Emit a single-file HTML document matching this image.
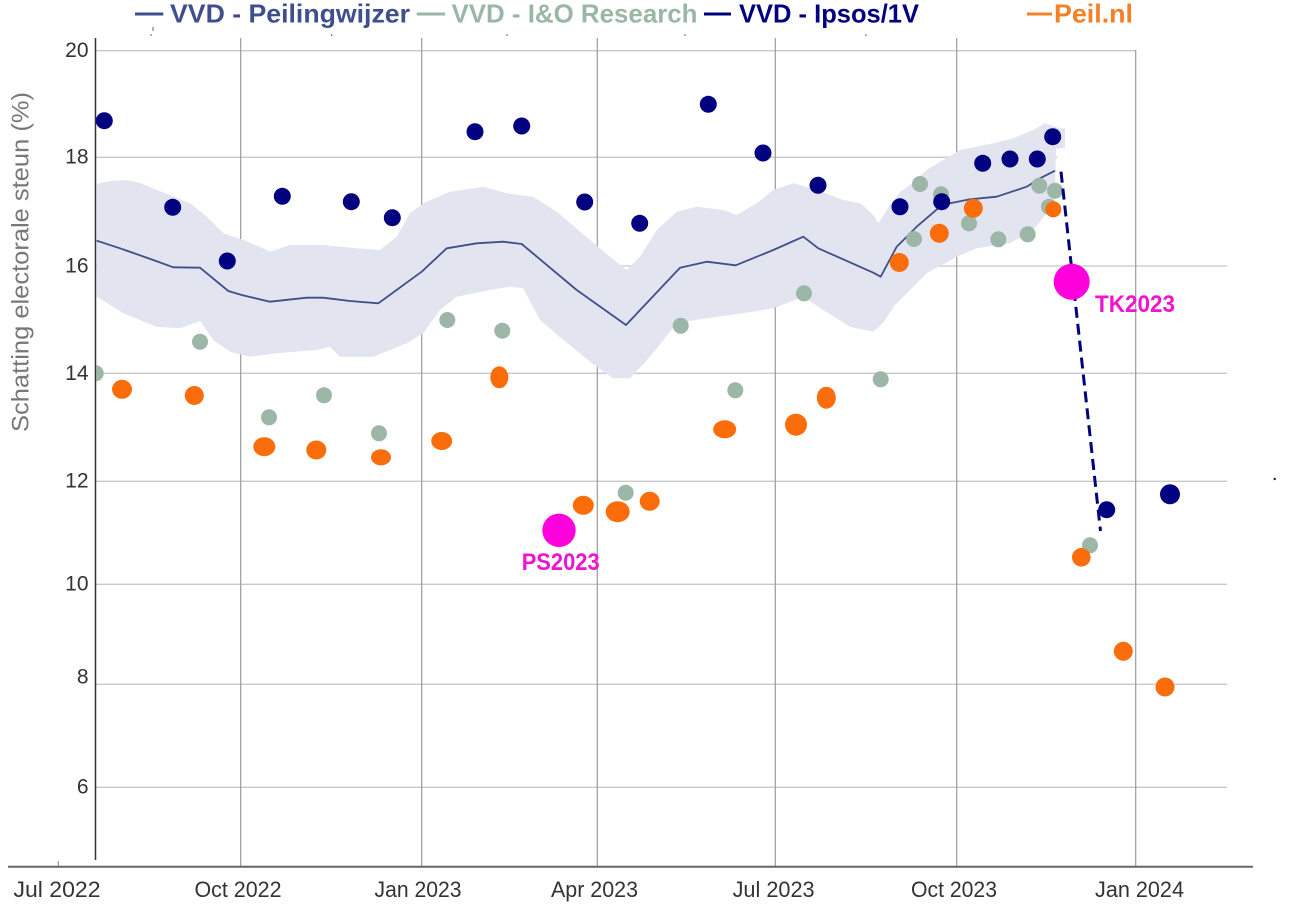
<!DOCTYPE html>
<html>
<head>
<meta charset="utf-8">
<style>
  html, body { margin: 0; padding: 0; background: #ffffff; }
  svg { display: block; }
  text { font-family: "Liberation Sans", "DejaVu Sans", sans-serif; }
</style>
</head>
<body>
<svg xmlns="http://www.w3.org/2000/svg" width="1300" height="905" viewBox="0 0 1300 905">
  <rect x="0" y="0" width="1300" height="905" fill="#ffffff"/>

  <!-- Legend -->
  <g font-weight="bold" font-size="26">
    <line x1="135" y1="14" x2="163.3" y2="14" stroke="#3f4f8c" stroke-width="3"/>
    <text x="170" y="22.7" fill="#3f4f8c" textLength="240" lengthAdjust="spacingAndGlyphs">VVD - Peilingwijzer</text>
    <line x1="416.7" y1="14" x2="445" y2="14" stroke="#9ab7a6" stroke-width="3"/>
    <text x="451.5" y="22.7" fill="#9ab7a6" textLength="246" lengthAdjust="spacingAndGlyphs">VVD - I&amp;O Research</text>
    <line x1="704" y1="14" x2="731" y2="14" stroke="#000080" stroke-width="3"/>
    <text x="739" y="22.7" fill="#000080" textLength="180" lengthAdjust="spacingAndGlyphs">VVD - Ipsos/1V</text>
    <line x1="1027" y1="14" x2="1052" y2="14" stroke="#f58025" stroke-width="3"/>
    <text x="1054" y="22.7" fill="#f58025" textLength="79" lengthAdjust="spacingAndGlyphs">Peil.nl</text>
  </g>

  <!-- tiny marks near top -->
  <g stroke="#666" stroke-width="1">
    <line x1="153" y1="27" x2="153" y2="31"/>
    <line x1="151" y1="34" x2="151" y2="36"/>
    <line x1="331.7" y1="34" x2="331.7" y2="36"/>
    <line x1="507" y1="34" x2="507" y2="36"/>
    <line x1="685" y1="34" x2="685" y2="36"/>
    <line x1="866" y1="34" x2="866" y2="36"/>
  </g>

  <!-- Horizontal gridlines -->
  <g stroke="#c8c8c8" stroke-width="1.3">
    <line x1="96" y1="50.7" x2="1135.7" y2="50.7"/>
    <line x1="96" y1="157.3" x2="1057" y2="157.3"/>
    <line x1="96" y1="266" x2="1227" y2="266"/>
    <line x1="96" y1="373.3" x2="1227" y2="373.3"/>
    <line x1="96" y1="481.3" x2="1227" y2="481.3"/>
    <line x1="96" y1="584.3" x2="1227" y2="584.3"/>
    <line x1="96" y1="684.3" x2="1227" y2="684.3"/>
    <line x1="96" y1="787.3" x2="1227" y2="787.3"/>
  </g>

  <!-- Vertical gridlines -->
  <g stroke="#9a9a9a" stroke-width="1.2">
    <line x1="240.7" y1="38" x2="240.7" y2="866"/>
    <line x1="421.7" y1="38" x2="421.7" y2="866"/>
    <line x1="597.3" y1="38" x2="597.3" y2="866"/>
    <line x1="775.3" y1="38" x2="775.3" y2="866"/>
    <line x1="956.7" y1="38" x2="956.7" y2="866"/>
    <line x1="1135.7" y1="50" x2="1135.7" y2="866"/>
  </g>

  <!-- Confidence band -->
  <polygon fill="#e2e5ef" points="
    96.7,184 110,181 126.7,180 140,183 156.7,190 175,197 190,203.3 205,215 223.3,233.3 243.3,240 258,246 270,251.7
    290,245 323.3,245 356.7,248.3 380,250 396.7,236.7 410,213.3 423.3,203.3 450,191.7 483.3,186.7 506.7,193.3
    533.3,196.7 556.7,211.7 590,240 610,256.7 626.7,270 640,256.7 656.7,230 676.7,211.7 696.7,206.7 723.3,210
    736.7,215 756.7,203.3 773.3,190 793.3,183.3 816.7,190 843.3,200 860,203.3 868,210 873.3,215 878.3,223.3
    890,205 900,192 910,185 926.7,170 960,150 993.3,143.3 1013.3,138.3 1033.3,130 1045,123.3 1060,128.3 1065,128.3
    1065,148.3 1056,148.3 1055,200
    1046.7,213.3 1033.3,230 1010,243.3 976.7,248.3 956.7,256.7 926.7,273.3 910,290 895,305 883,323 873.3,331.7
    850,326.7 823.3,310 803.3,296.7 773.3,308.3 743.3,313.3 706.7,318.3 676.7,323.3 650,356.7 630,378.3 613.3,378.3
    596.7,366.7 563.3,340 540,320 523.3,288.3 510,286.7 490,290 456.7,296.7 440,310 423.3,333.3 406.7,343.3
    373.3,356.7 340,356.7 330,346.7 316.7,350 276.7,353.3 250,356.7 230,351.7 213.3,340 200,321 180,328.3
    156.7,326.7 123.3,313.3 96.7,296.7"/>

  <!-- Peilingwijzer line -->
  <polyline fill="none" stroke="#3e4f8b" stroke-width="1.8" stroke-linejoin="round" points="
    96.7,240.7 120,248.3 153.3,260 173.3,267.3 200,267.7 228.3,291 241.7,295 270,301.7 306.7,297.7 323.3,297.7
    350,301 378.3,303.3 421.7,271.7 446.7,248.3 476.7,243.3 503.3,241.7 521.7,244 576.7,290 626,325 680,267.7
    706.7,261.7 735.7,265.3 773.3,250 803.3,236.7 818.3,248.3 873.3,272.7 880.7,276.7 896.7,246.7 916.7,226.7
    940,206.7 950,203.3 970,199.3 996.7,196.7 1026.7,186.7 1040,178.3 1055,170.7"/>

  <!-- Axes -->
  <line x1="95.5" y1="38" x2="95.5" y2="860" stroke="#333" stroke-width="1.5"/>
  <line x1="8" y1="866.7" x2="1253" y2="866.7" stroke="#666" stroke-width="2"/>
  <line x1="58.3" y1="861" x2="58.3" y2="866" stroke="#888" stroke-width="1"/>

  <!-- I&O dots -->
  <clipPath id="plotclip"><rect x="96.3" y="0" width="1204" height="905"/></clipPath>
  <g fill="#9cb6a8" clip-path="url(#plotclip)">
    <circle cx="95.7" cy="373.3" r="8"/>
    <circle cx="200" cy="341.7" r="8"/>
    <circle cx="269" cy="417.3" r="8"/>
    <circle cx="324" cy="395.3" r="8"/>
    <circle cx="379" cy="433.3" r="8"/>
    <circle cx="447.3" cy="320" r="8"/>
    <circle cx="502.3" cy="330.7" r="8"/>
    <circle cx="625.7" cy="492.7" r="8"/>
    <circle cx="680.7" cy="325.7" r="8"/>
    <circle cx="735.3" cy="390.3" r="8"/>
    <circle cx="804" cy="293.3" r="8"/>
    <circle cx="880.7" cy="379.3" r="8"/>
    <circle cx="914" cy="239" r="8"/>
    <circle cx="920" cy="184" r="8"/>
    <circle cx="941" cy="194.3" r="8"/>
    <circle cx="969" cy="223.3" r="8"/>
    <circle cx="998.3" cy="239.3" r="8"/>
    <circle cx="1027.7" cy="234.3" r="8"/>
    <circle cx="1039.3" cy="185.7" r="8"/>
    <circle cx="1055" cy="190.7" r="8"/>
    <circle cx="1049" cy="206.7" r="8"/>
    <circle cx="1090" cy="545.3" r="8"/>
  </g>

  <!-- Peil.nl dots -->
  <g fill="#fb6d0a">
    <ellipse cx="122" cy="389.3" rx="10" ry="9.5"/>
    <ellipse cx="194.3" cy="395.5" rx="9.5" ry="9.5"/>
    <ellipse cx="264.3" cy="446.7" rx="11" ry="9.5"/>
    <ellipse cx="316.3" cy="450" rx="10" ry="9.5"/>
    <ellipse cx="381" cy="457.3" rx="10" ry="8"/>
    <ellipse cx="441.7" cy="441" rx="10.5" ry="9"/>
    <ellipse cx="499.3" cy="377.3" rx="9" ry="11"/>
    <ellipse cx="583.3" cy="505.3" rx="10.5" ry="9.5"/>
    <ellipse cx="617.7" cy="511.7" rx="12" ry="10.5"/>
    <ellipse cx="649.7" cy="501.3" rx="10" ry="9.5"/>
    <ellipse cx="724.7" cy="429.3" rx="11.5" ry="9"/>
    <ellipse cx="796" cy="424.7" rx="11" ry="11"/>
    <ellipse cx="826.3" cy="397.7" rx="9.5" ry="11"/>
    <circle cx="899.3" cy="262.5" r="9.5"/>
    <circle cx="939.3" cy="233.3" r="9.5"/>
    <circle cx="973.3" cy="208.3" r="9.5"/>
    <circle cx="1053.3" cy="209.3" r="8"/>
    <circle cx="1081.3" cy="557.3" r="9.3"/>
    <circle cx="1123.3" cy="651.3" r="9.5"/>
    <circle cx="1165" cy="687" r="9.5"/>
  </g>

  <!-- Dashed line -->
  <line x1="1061" y1="171.7" x2="1100.5" y2="531" stroke="#000080" stroke-width="3" stroke-dasharray="11,6"/>

  <!-- Ipsos dots -->
  <g fill="#000080">
    <circle cx="104.3" cy="120.7" r="8.5"/>
    <circle cx="172.7" cy="207.3" r="8.5"/>
    <circle cx="227.3" cy="261" r="8.5"/>
    <circle cx="282.3" cy="196.3" r="8.5"/>
    <circle cx="351.3" cy="201.7" r="8.5"/>
    <circle cx="392.3" cy="217.7" r="8.5"/>
    <circle cx="475" cy="131.7" r="8.5"/>
    <circle cx="521.7" cy="126" r="8.5"/>
    <circle cx="584.7" cy="202" r="8.5"/>
    <circle cx="639.7" cy="223.3" r="8.5"/>
    <circle cx="708.3" cy="104.3" r="8.5"/>
    <circle cx="763" cy="153" r="8.5"/>
    <circle cx="818" cy="185.3" r="8.5"/>
    <circle cx="900" cy="206.8" r="8.5"/>
    <circle cx="941.7" cy="201.7" r="8.5"/>
    <circle cx="982.7" cy="163.3" r="8.5"/>
    <circle cx="1010" cy="159" r="8.5"/>
    <circle cx="1037.3" cy="159" r="8.5"/>
    <circle cx="1052.7" cy="136.7" r="8.5"/>
    <circle cx="1106.7" cy="509.7" r="8.5"/>
    <circle cx="1170" cy="494.3" r="10"/>
  </g>

  <!-- Election markers -->
  <circle cx="559" cy="530.3" r="16.7" fill="#ff00dd"/>
  <circle cx="1071.7" cy="281.7" r="18" fill="#ff00dd"/>
  <g font-weight="bold" font-size="24" fill="#ee14d2">
    <text x="521.7" y="570" textLength="78" lengthAdjust="spacingAndGlyphs">PS2023</text>
    <text x="1095" y="312" textLength="80" lengthAdjust="spacingAndGlyphs">TK2023</text>
  </g>

  <circle cx="1274.7" cy="479" r="1.2" fill="#222"/>

  <!-- Y tick labels -->
  <g font-size="21" fill="#333" text-anchor="end" dominant-baseline="central">
    <text x="88.5" y="50.7">20</text>
    <text x="88.5" y="157">18</text>
    <text x="88.5" y="266">16</text>
    <text x="88.5" y="373.3">14</text>
    <text x="88.5" y="481">12</text>
    <text x="88.5" y="584">10</text>
    <text x="88.5" y="677">8</text>
    <text x="88.5" y="787">6</text>
  </g>

  <!-- X tick labels -->
  <g font-size="22" fill="#333" text-anchor="middle">
    <text x="57" y="897" textLength="87" lengthAdjust="spacingAndGlyphs">Jul 2022</text>
    <text x="238" y="897" textLength="87" lengthAdjust="spacingAndGlyphs">Oct 2022</text>
    <text x="418" y="897" textLength="87" lengthAdjust="spacingAndGlyphs">Jan 2023</text>
    <text x="594.5" y="897" textLength="87" lengthAdjust="spacingAndGlyphs">Apr 2023</text>
    <text x="773.6" y="897" textLength="82" lengthAdjust="spacingAndGlyphs">Jul 2023</text>
    <text x="954" y="897" textLength="86" lengthAdjust="spacingAndGlyphs">Oct 2023</text>
    <text x="1139.5" y="897" textLength="89" lengthAdjust="spacingAndGlyphs">Jan 2024</text>
  </g>

  <!-- Y axis title -->
  <text transform="translate(21,262) rotate(-90)" font-size="24" fill="#777" text-anchor="middle" dominant-baseline="central" textLength="340" lengthAdjust="spacingAndGlyphs">Schatting electorale steun (%)</text>
</svg>
</body>
</html>
